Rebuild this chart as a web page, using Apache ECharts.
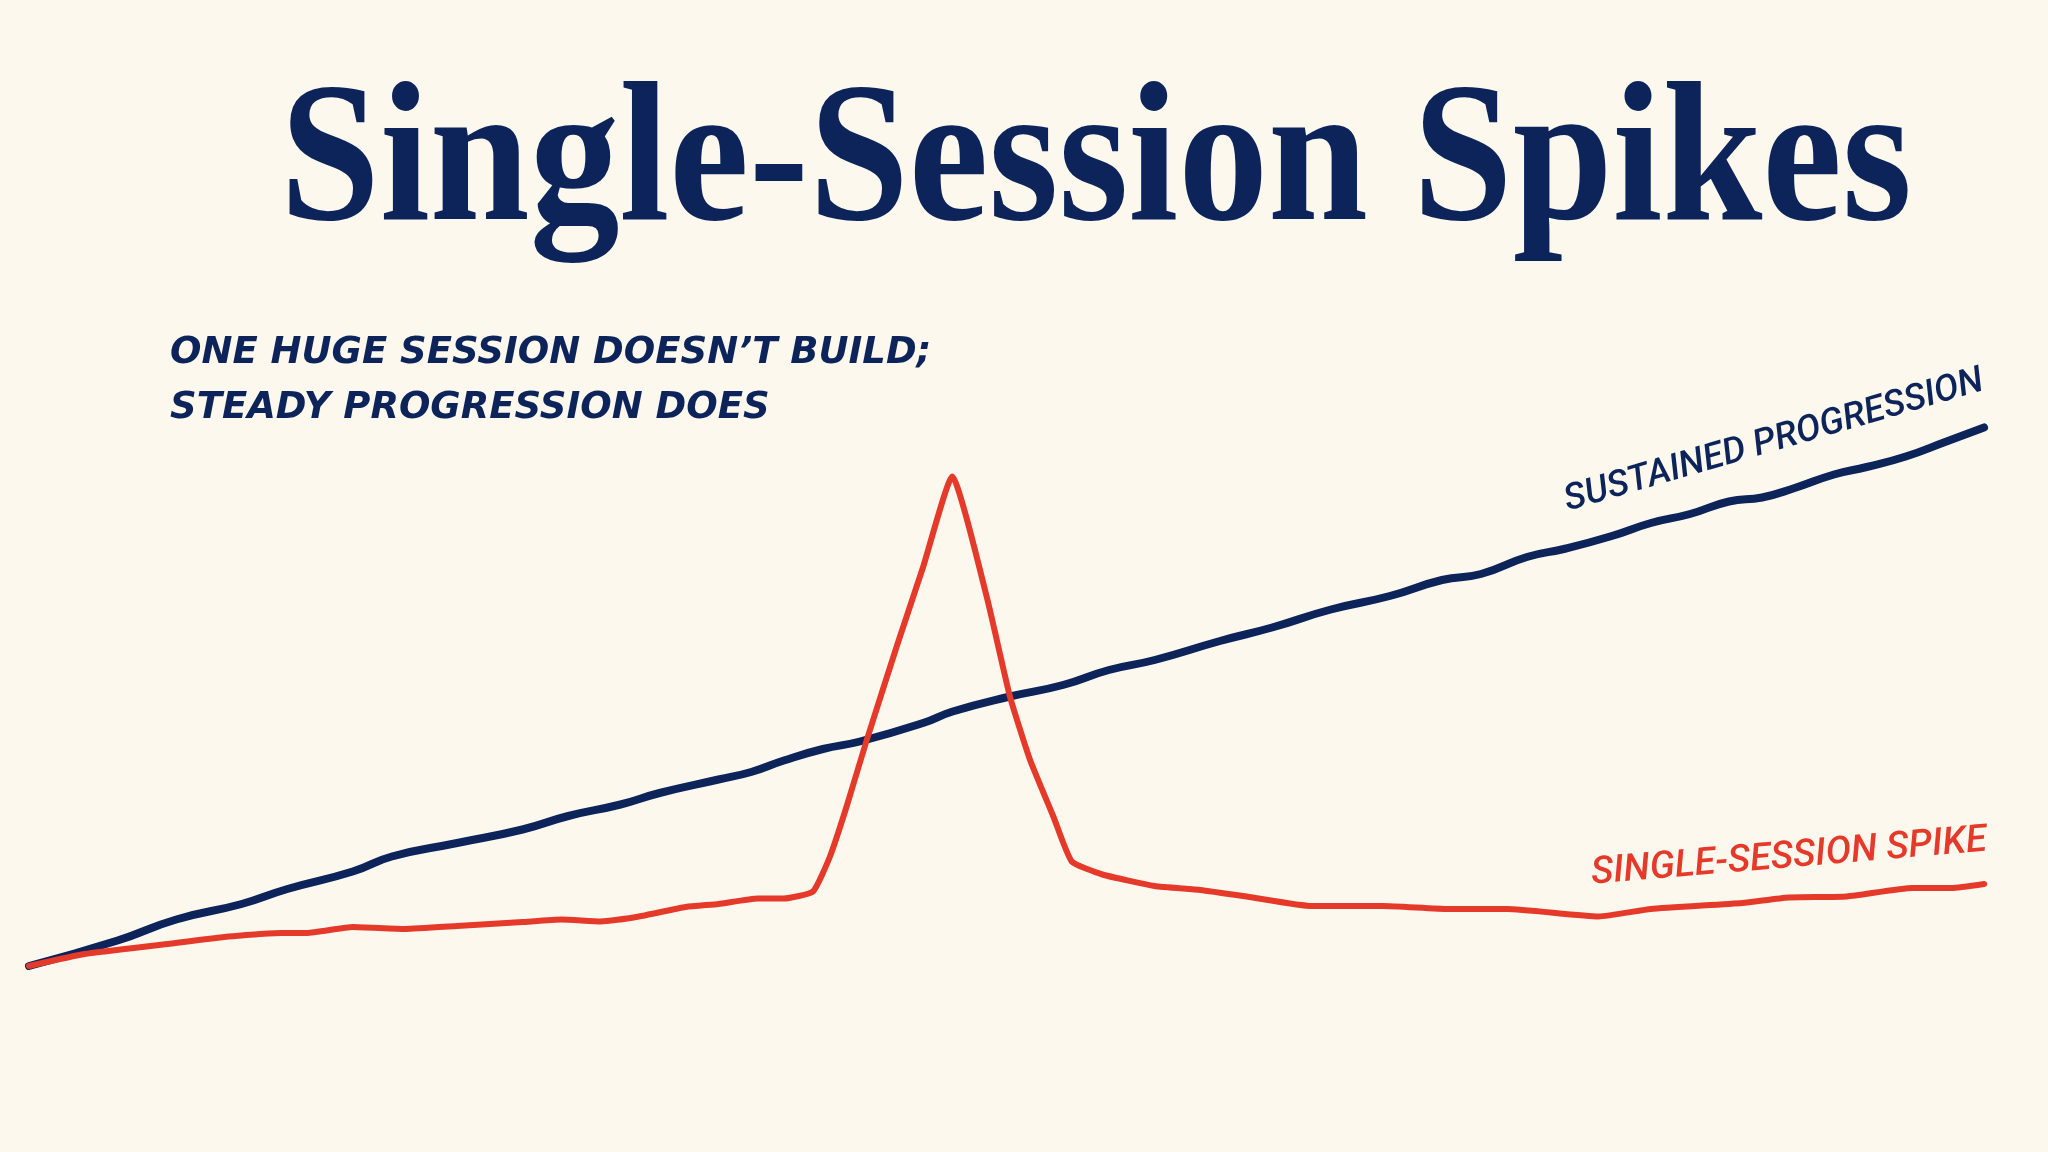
<!DOCTYPE html>
<html>
<head>
<meta charset="utf-8">
<script src="https://cdn.jsdelivr.net/npm/echarts@6/dist/echarts.min.js"></script>
<style>
html,body{margin:0;padding:0;background:#fcf8ee;}
#chart{width:2048px;height:1152px;}
</style>
</head>
<body>
<div id="chart"></div>
<script>
// ---- data (session index 0..100, performance index) ----
const titleText = 'Single-Session Spikes';
const subtitleLines = ['ONE HUGE SESSION DOESN\u2019T BUILD;', 'STEADY PROGRESSION DOES'];
const sustainedLabel = 'SUSTAINED PROGRESSION';
const spikeLabel = 'SINGLE-SESSION SPIKE';

const sustainedX = [0, 4.53, 7.53, 10.87, 13.21, 16.55, 18.55, 21.89, 25.23, 27.57, 30.24, 32.24, 35.25, 36.92, 38.59, 40.59, 42.48, 45.71, 47.22, 50.15, 52.86, 55.21, 57.55, 60.89, 63.55, 66.56, 69.57, 72.24, 74.23, 76.58, 78.58, 80.92, 82.92, 84.92, 86.91, 88.60, 90.27, 92.28, 93.95, 95.95, 97.96, 99.95];
const sustainedY = [0, 5.1, 9.3, 12.4, 15.4, 18.9, 21.9, 24.6, 27.3, 30.0, 32.3, 34.6, 37.3, 38.8, 41.1, 43.4, 44.9, 48.6, 50.9, 53.9, 56.2, 59.2, 61.2, 65.0, 67.7, 71.3, 74.0, 77.2, 78.4, 81.8, 83.5, 86.0, 88.6, 90.4, 92.9, 93.7, 95.6, 98.3, 99.8, 101.9, 104.8, 107.7];

const spikeX = [0, 2.84, 6.85, 10.2, 12.88, 14.2, 16.55, 19.22, 21.89, 25.23, 27.23, 29.24, 30.91, 33.58, 35.25, 37.25, 38.59, 40.08, 40.95, 41.80, 42.83, 44.36, 45.72, 47.20, 48.96, 50.15, 51.18, 52.37, 53.31, 54.88, 57.55, 59.89, 62.56, 65.56, 69.23, 72.58, 75.58, 80.25, 82.92, 87.60, 89.94, 92.94, 96.28, 98.29, 99.96];
const spikeY = [0, 2.4, 4.3, 5.9, 6.6, 6.6, 7.8, 7.4, 8.0, 8.8, 9.3, 8.9, 9.7, 11.8, 12.4, 13.5, 13.5, 14.9, 21.9, 31.9, 45.2, 63.9, 79.9, 97.9, 73.9, 53.9, 41.2, 29.9, 20.9, 18.3, 16.0, 15.2, 13.7, 12.0, 12.0, 11.4, 11.4, 9.9, 11.4, 12.6, 13.7, 13.9, 15.6, 15.6, 16.4];

const NAVY = '#0c2459';
const RED = '#e5392a';
const BG = '#fcf8ee';

function zip(xs, ys){ return xs.map((x,i)=>[x, ys[i]]); }

const chart = echarts.init(document.getElementById('chart'), null, {renderer:'canvas'});

const baseOption = {
  backgroundColor: BG,
  animation: false,
  grid: {left: 29, right: 63, top: 416, bottom: 186},
  xAxis: {type:'value', min:0, max:100, show:false},
  yAxis: {type:'value', min:0, max:110, show:false},
  series: [
    {
      name: sustainedLabel, type:'line', data: zip(sustainedX, sustainedY),
      smooth: 0.5, symbol:'none', clip:false, z: 2,
      lineStyle: {color: NAVY, width: 8, cap:'round', join:'round'}
    },
    {
      name: spikeLabel, type:'line', data: zip(spikeX, spikeY),
      smooth: 0.15, symbol:'none', clip:false, z: 3,
      lineStyle: {color: RED, width: 6, cap:'round', join:'round'}
    }
  ]
};
chart.setOption(baseOption);

const sEnd = chart.convertToPixel({gridIndex:0}, [sustainedX[sustainedX.length-1], sustainedY[sustainedY.length-1]]);
const rEnd = chart.convertToPixel({gridIndex:0}, [spikeX[spikeX.length-1], spikeY[spikeY.length-1]]);

chart.setOption({
  graphic: [
    {
      type:'text', x: 280, y: 167, scaleX: 0.898,
      style: {text: titleText, font: 'bold 200px "Liberation Serif", serif', fill: NAVY, textAlign:'left', textVerticalAlign:'middle'}
    },
    {
      type:'text', x: 170, y: 326,
      style: {text: subtitleLines.join('\n'), font: 'italic bold 37px "DejaVu Sans", sans-serif', fill: NAVY, lineHeight: 55, textAlign:'left', textVerticalAlign:'top'}
    },
    {
      type:'text', x: sEnd[0] + 4, y: sEnd[1] - 29, rotation: 16.2 * Math.PI / 180,
      style: {text: sustainedLabel, font: 'italic 500 36.5px Roboto, sans-serif', fill: NAVY, textAlign:'right', textVerticalAlign:'bottom'}
    },
    {
      type:'text', x: rEnd[0] + 4, y: rEnd[1] - 24, rotation: 4.8 * Math.PI / 180,
      style: {text: spikeLabel, font: 'italic 500 38px Roboto, sans-serif', fill: RED, textAlign:'right', textVerticalAlign:'bottom'}
    }
  ]
});
</script>
</body>
</html>
